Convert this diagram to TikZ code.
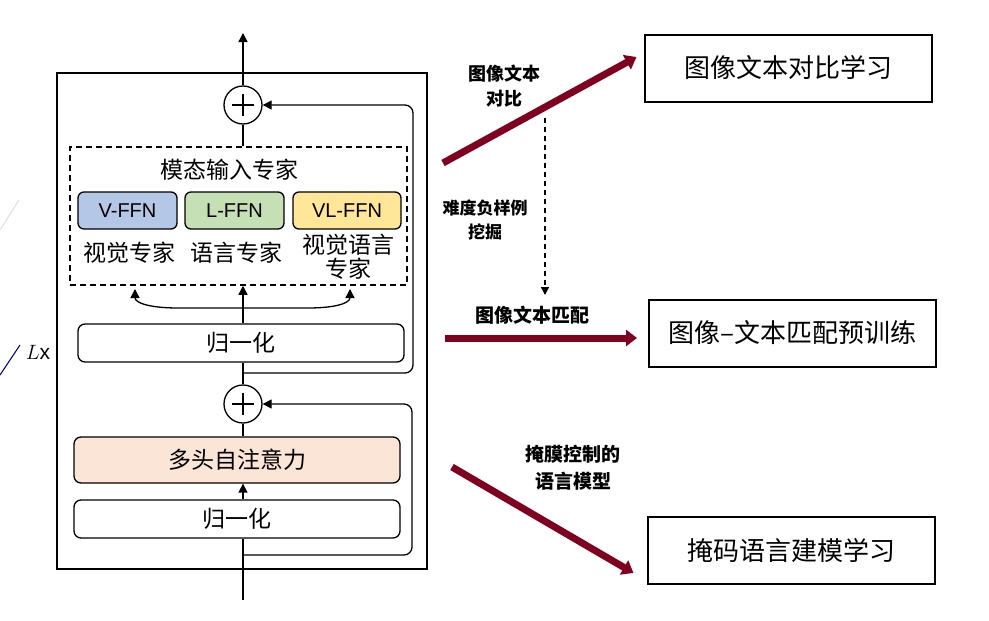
\documentclass[tikz,border=0pt]{standalone}
\usepackage{fontspec}
\setmainfont{Liberation Sans}
\newfontfamily\cjk{Noto Sans CJK SC}
\usepackage{tikz}
\usetikzlibrary{arrows.meta,calc,positioning}

\definecolor{ffnblue}{RGB}{180,199,231}
\definecolor{ffngreen}{RGB}{197,224,180}
\definecolor{ffnyellow}{RGB}{255,230,153}
\definecolor{mhapeach}{RGB}{251,229,214}
\definecolor{taskred}{RGB}{128,0,32}

\tikzset{
	flow/.style={line width=1.3pt},
	flowarrow/.style={line width=1.3pt,-{Triangle[length=9pt,width=9pt]}},
	layerbox/.style={draw,line width=1.3pt,rounded corners=7pt,minimum width=326pt,minimum height=38pt,inner sep=0pt,font=\cjk\fontsize{23}{26}\selectfont},
	ffnbox/.style={draw,line width=1.3pt,rounded corners=6pt,minimum width=99pt,minimum height=37pt,inner sep=0pt,font=\fontsize{20}{22}\selectfont},
	addop/.style={draw,circle,line width=1.3pt,minimum size=38pt,inner sep=0pt},
	cnlabel/.style={font=\cjk\fontsize{23}{26}\selectfont,inner sep=0pt},
	tasklabel/.style={align=center,inner sep=0pt},
	taskbox/.style={draw,line width=2pt,minimum width=287pt,minimum height=67pt,inner sep=0pt,font=\cjk\fontsize{26}{30}\selectfont},
	taskarrow/.style={taskred,line width=7pt,-{Triangle[length=11pt,width=16pt]}}
}

\begin{document}
\begin{tikzpicture}[x=1pt,y=-1pt]
	\useasboundingbox (0,0) rectangle (989,621);
	% stray cut lines at the left edge
	\draw[gray!25,line width=1pt] (0,230) -- (19,200);
	\draw[blue!55!black,line width=1pt] (0,375) -- (20,345);
	% repeated block
	\draw[line width=1.5pt] (57,73) rectangle (427,569);
	\node[font=\fontsize{21}{24}\selectfont,inner sep=0pt] (reps) at (38,352) {$L$x};
	% main stream
	\coordinate (input) at (243,600);
	\coordinate (output) at (243,33);
	\node[layerbox] (norm1) at (237,519) {归一化};
	\node[layerbox,fill=mhapeach,minimum height=46pt] (mha) at (237,460) {多头自注意力};
	\node[addop] (add1) at (243,404) {};
	\node[layerbox] (norm2) at (241,343) {归一化};
	\node[draw,dashed,line width=1.5pt,dash pattern=on 6pt off 4pt,minimum width=337pt,minimum height=138pt,inner sep=0pt] (moe) at (238.5,216) {};
	\node[addop] (add2) at (243,105) {};
	% plus signs
	\foreach \op in {add1,add2}{
		\draw[line width=1.3pt] ($(\op)+(-11,0)$) -- ($(\op)+(11,0)$);
		\draw[line width=1.3pt] ($(\op)+(0,-11)$) -- ($(\op)+(0,11)$);
	}
	% experts
	\node[cnlabel] (moetitle) at (229,170) {模态输入专家};
	\node[ffnbox,fill=ffnblue] (vffn) at (127.5,210.5) {V-FFN};
	\node[ffnbox,fill=ffngreen] (lffn) at (234.5,210.5) {L-FFN};
	\node[ffnbox,fill=ffnyellow,minimum width=108pt] (vlffn) at (347,210.5) {VL-FFN};
	\node[cnlabel] (vname) at (129,253) {视觉专家};
	\node[cnlabel] (lname) at (236,253) {语言专家};
	\node[cnlabel,align=center] (vlname) at (348,257) {视觉语言\\[-2pt]专家};
	% connections
	\draw[flow] (input) -- (input |- norm1.south);
	\draw[flowarrow] (input |- norm1.north) -- (input |- mha.south);
	\draw[flow] (input |- mha.north) -- (add1.south);
	\draw[flow] (add1.north) -- (input |- norm2.south);
	\draw[flowarrow] (input |- norm2.north) -- (input |- moe.south);
	\draw[flow] (input |- moe.north) -- (add2.south);
	\draw[flowarrow] (add2.north) -- (output);
	% residual paths
	\coordinate (res1) at (243,555);
	\coordinate (res2) at (243,373);
	\draw[flowarrow,rounded corners=8pt] (res1) -- ++(169,0) |- (add1.east);
	\draw[flowarrow,rounded corners=8pt] (res2) -- ++(170,0) |- (add2.east);
	% routing to the experts
	\coordinate (route) at (243,308);
	\coordinate (vroute) at (135,289);
	\coordinate (vlroute) at (350,289);
	\draw[flowarrow] (route) -- ++(-65,0) .. controls +(-28,0) and +(0,14) .. (vroute);
	\draw[flowarrow] (route) -- ++(65,0) .. controls +(28,0) and +(0,14) .. (vlroute);
	% pretraining tasks
	\node[taskbox] (itc) at (788,68) {图像文本对比学习};
	\node[taskbox] (itm) at (792.5,333) {图像–文本匹配预训练};
	\node[taskbox] (mlm) at (791,550) {掩码语言建模学习};
	\coordinate (itcfrom) at (443,163);
	\coordinate (itmfrom) at (445,338);
	\coordinate (mlmfrom) at (452,467);
	\draw[taskarrow] (itcfrom) -- ($(itc.west)+(-7,-11)$);
	\draw[taskarrow] (itmfrom) -- ($(itm.west)+(-11,5)$);
	\draw[taskarrow] (mlmfrom) -- ($(mlm.west)+(-13,23)$);
	\node[tasklabel,font=\cjk\bfseries\fontsize{18}{25}\selectfont] (itclabel) at (504,86) {图像文本\\对比};
	\node[tasklabel,font=\cjk\bfseries\fontsize{17}{24}\selectfont] (hnlabel) at (485,220) {难度负样例\\挖掘};
	\node[tasklabel,font=\cjk\bfseries\fontsize{19}{24}\selectfont] (itmlabel) at (532,315) {图像文本匹配};
	\node[tasklabel,font=\cjk\bfseries\fontsize{19}{27}\selectfont] (mlmlabel) at (573,468) {掩膜控制的\\语言模型};
	% hard negative mining
	\coordinate (hnfrom) at (545,118);
	\coordinate (hnto) at (545,295);
	\draw[line width=1.3pt,dash pattern=on 5pt off 4pt,-{Triangle[length=8pt,width=8pt]}] (hnfrom) -- (hnto);
\end{tikzpicture}
\end{document}
